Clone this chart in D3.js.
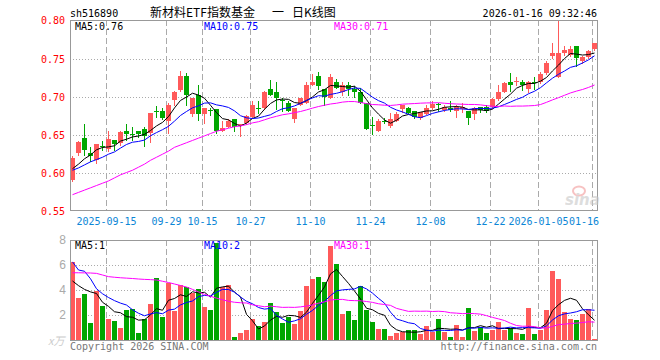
<!DOCTYPE html>
<html>
<head>
<meta charset="utf-8">
<script src="https://cdn.jsdelivr.net/npm/d3@7"></script>
<style>
  body { margin: 0; background: #fff; }
  svg { display: block; }
  text { font-family: "DejaVu Sans Mono", monospace; font-size: 10px; }
</style>
</head>
<body>
<div id="chart"></div>
<script>
// trading days shown on the chart
const dates = [
  "2025-09-05","2025-09-08","2025-09-09","2025-09-10","2025-09-11","2025-09-12","2025-09-15","2025-09-16","2025-09-17","2025-09-18",
  "2025-09-19","2025-09-22","2025-09-23","2025-09-24","2025-09-25","2025-09-26","2025-09-29","2025-09-30","2025-10-09","2025-10-10",
  "2025-10-13","2025-10-14","2025-10-15","2025-10-16","2025-10-17","2025-10-20","2025-10-21","2025-10-22","2025-10-23","2025-10-24",
  "2025-10-27","2025-10-28","2025-10-29","2025-10-30","2025-10-31","2025-11-03","2025-11-04","2025-11-05","2025-11-06","2025-11-07",
  "2025-11-10","2025-11-11","2025-11-12","2025-11-13","2025-11-14","2025-11-17","2025-11-18","2025-11-19","2025-11-20","2025-11-21",
  "2025-11-24","2025-11-25","2025-11-26","2025-11-27","2025-11-28","2025-12-01","2025-12-02","2025-12-03","2025-12-04","2025-12-05",
  "2025-12-08","2025-12-09","2025-12-10","2025-12-11","2025-12-12","2025-12-15","2025-12-16","2025-12-17","2025-12-18","2025-12-19",
  "2025-12-22","2025-12-23","2025-12-24","2025-12-25","2025-12-26","2025-12-29","2025-12-30","2025-12-31","2026-01-05","2026-01-06",
  "2026-01-07","2026-01-08","2026-01-09","2026-01-12","2026-01-13","2026-01-14","2026-01-15","2026-01-16"
];

const open = [
  0.591,0.626,0.646,0.626,0.618,0.636,0.632,0.644,0.640,0.655,
  0.651,0.656,0.658,0.653,0.682,0.682,0.669,0.696,0.709,0.728,
  0.677,0.703,0.677,0.683,0.684,0.656,0.661,0.671,0.663,0.666,
  0.674,0.685,0.685,0.710,0.706,0.696,0.692,0.671,0.689,0.692,
  0.716,0.728,0.710,0.699,0.720,0.707,0.716,0.710,0.706,0.692,
  0.663,0.656,0.669,0.662,0.669,0.684,0.685,0.682,0.672,0.678,
  0.685,0.691,0.683,0.686,0.682,0.684,0.681,0.678,0.687,0.687,
  0.687,0.697,0.707,0.719,0.719,0.720,0.710,0.720,0.719,0.731,
  0.753,0.726,0.757,0.755,0.767,0.747,0.752,0.763
];
const high = [
  0.622,0.642,0.665,0.634,0.639,0.642,0.655,0.644,0.655,0.665,
  0.660,0.656,0.660,0.679,0.688,0.685,0.692,0.708,0.734,0.731,
  0.698,0.716,0.685,0.685,0.684,0.668,0.671,0.671,0.665,0.676,
  0.695,0.695,0.708,0.722,0.720,0.698,0.695,0.686,0.699,0.720,
  0.730,0.732,0.710,0.730,0.723,0.720,0.720,0.714,0.712,0.692,
  0.674,0.671,0.673,0.679,0.680,0.690,0.687,0.682,0.680,0.689,
  0.694,0.692,0.689,0.694,0.690,0.692,0.682,0.687,0.687,0.689,
  0.699,0.715,0.720,0.731,0.726,0.722,0.721,0.726,0.732,0.747,
  0.771,0.800,0.766,0.766,0.767,0.753,0.761,0.771
];
const low = [
  0.590,0.624,0.624,0.616,0.613,0.630,0.629,0.631,0.637,0.644,
  0.644,0.647,0.636,0.641,0.674,0.671,0.653,0.690,0.708,0.690,
  0.675,0.670,0.666,0.676,0.653,0.655,0.660,0.655,0.649,0.665,
  0.674,0.679,0.684,0.703,0.684,0.681,0.682,0.667,0.689,0.692,
  0.716,0.710,0.690,0.698,0.712,0.703,0.703,0.700,0.692,0.658,
  0.651,0.655,0.666,0.661,0.668,0.680,0.679,0.673,0.671,0.677,
  0.684,0.682,0.682,0.682,0.674,0.680,0.664,0.671,0.680,0.680,
  0.686,0.696,0.706,0.708,0.715,0.709,0.707,0.710,0.718,0.730,
  0.751,0.726,0.755,0.754,0.740,0.745,0.751,0.761
];
const close = [
  0.620,0.641,0.631,0.623,0.639,0.635,0.645,0.638,0.654,0.651,
  0.650,0.651,0.649,0.679,0.681,0.673,0.689,0.706,0.728,0.703,
  0.698,0.677,0.685,0.682,0.655,0.659,0.669,0.661,0.665,0.675,
  0.689,0.684,0.706,0.703,0.698,0.695,0.682,0.685,0.698,0.715,
  0.720,0.714,0.700,0.726,0.712,0.716,0.710,0.706,0.692,0.658,
  0.662,0.669,0.668,0.671,0.677,0.690,0.679,0.674,0.680,0.685,
  0.691,0.689,0.687,0.683,0.687,0.687,0.673,0.685,0.683,0.682,
  0.697,0.706,0.718,0.715,0.721,0.715,0.719,0.718,0.730,0.745,
  0.758,0.757,0.761,0.763,0.751,0.752,0.760,0.771
];

// price moving averages as drawn
const ma5 = [
  0.606,0.612,0.619,0.624,0.6308,0.6338,0.6346,0.636,0.6422,0.6446,
  0.6476,0.6488,0.651,0.656,0.662,0.6666,0.6742,0.6856,0.6954,0.6998,
  0.7048,0.7024,0.6982,0.689,0.6794,0.6716,0.670,0.6652,0.6618,0.6658,
  0.6718,0.6748,0.6838,0.6914,0.696,0.6972,0.6968,0.6926,0.6916,0.695,
  0.700,0.7064,0.7094,0.715,0.7144,0.7136,0.7128,0.714,0.7072,0.6964,
  0.6856,0.6774,0.6698,0.6656,0.6694,0.675,0.677,0.6782,0.680,0.6816,
  0.6818,0.6838,0.6864,0.687,0.6874,0.6866,0.6834,0.683,0.683,0.682,
  0.684,0.6906,0.6972,0.7036,0.7114,0.715,0.7176,0.7176,0.7206,0.7254,
  0.734,0.7416,0.7502,0.7568,0.756,0.7548,0.7554,0.7574
];
const ma10 = [
  0.604,0.607,0.611,0.615,0.618,0.621,0.625,0.628,0.633,0.6377,
  0.6407,0.6417,0.6435,0.6491,0.6533,0.6571,0.6615,0.6683,0.6757,0.6809,
  0.6857,0.6883,0.6919,0.6922,0.6896,0.6882,0.6862,0.6817,0.6754,0.6726,
  0.6717,0.6724,0.6745,0.6766,0.6809,0.6845,0.6858,0.6882,0.6915,0.6955,
  0.6986,0.7016,0.701,0.7033,0.7047,0.7068,0.7096,0.7117,0.7111,0.7054,
  0.6996,0.6951,0.6919,0.6864,0.6829,0.6803,0.6772,0.674,0.6728,0.6755,
  0.6784,0.6804,0.6823,0.6835,0.6845,0.6842,0.6836,0.6847,0.685,0.6847,
  0.6853,0.687,0.6901,0.6933,0.6967,0.6995,0.7041,0.7074,0.7121,0.7184,
  0.7245,0.7296,0.7339,0.7387,0.7407,0.7444,0.7485,0.7538
];
const ma30 = [
  0.572,0.575,0.578,0.581,0.584,0.587,0.590,0.594,0.598,0.601,
  0.604,0.608,0.612,0.617,0.621,0.625,0.629,0.634,0.637,0.640,
  0.643,0.646,0.649,0.652,0.655,0.657,0.659,0.661,0.662,0.6637,
  0.666,0.6675,0.670,0.6726,0.6746,0.6766,0.6778,0.6794,0.6809,0.683,
  0.6853,0.6874,0.6891,0.6907,0.6917,0.6932,0.6939,0.6939,0.6927,0.6912,
  0.690,0.6897,0.6891,0.6888,0.6895,0.6905,0.6909,0.6913,0.6918,0.6921,
  0.6922,0.6924,0.6917,0.6911,0.6907,0.6904,0.6901,0.6901,0.6896,0.6885,
  0.6878,0.6875,0.6881,0.6877,0.688,0.688,0.6883,0.6887,0.690,0.6929,
  0.6961,0.699,0.7021,0.7052,0.7076,0.7097,0.7124,0.7156
];

// volume, x万
const volume = [
  6.24,3.36,3.68,1.36,3.95,2.75,1.71,1.52,0.96,2.43,
  2.48,0.56,1.68,2.88,4.96,1.84,4.56,2.35,4.40,4.24,
  3.73,4.08,2.67,2.43,7.79,4.27,4.40,0.24,0.56,0.80,
  1.71,1.09,1.44,2.96,2.24,1.36,1.84,1.28,2.32,4.32,
  4.88,5.07,4.67,7.52,6.08,2.08,2.32,1.60,4.32,2.40,
  1.44,0.88,0.88,0.32,0.56,0.64,0.80,0.80,0.48,1.12,
  0.64,1.68,0.64,0.24,1.20,0.24,2.56,0.72,1.04,0.56,
  0.80,1.44,0.80,0.96,0.56,0.48,2.56,0.48,0.80,2.40,
  5.52,4.88,2.24,1.68,1.60,2.08,2.48,0.08
];
const volMa5 = [
  4.72,4.35,4.05,3.85,3.72,3.02,2.69,2.26,2.18,1.87,
  1.82,1.59,1.62,2.01,2.51,2.38,3.18,3.32,3.62,3.48,
  3.86,3.76,3.82,3.43,4.14,4.25,4.31,3.83,3.45,2.05,
  1.54,0.88,1.12,1.60,1.89,1.82,1.97,1.94,1.81,2.22,
  2.93,3.57,4.25,5.29,5.64,5.08,4.53,3.92,3.28,2.54,
  2.42,2.13,1.98,1.18,0.82,0.66,0.64,0.62,0.66,0.77,
  0.77,0.94,0.91,0.86,0.88,0.80,0.98,0.99,1.15,1.02,
  1.14,0.91,0.93,0.91,0.91,0.85,1.07,1.01,0.98,1.34,
  2.35,2.82,3.17,3.34,3.18,2.50,2.02,1.58
];
const volMa10 = [
  6.25,5.60,5.50,4.90,4.10,3.70,3.40,3.15,2.95,2.80,
  2.42,2.14,1.94,2.09,2.19,2.10,2.39,2.47,2.81,3.00,
  3.12,3.47,3.57,3.53,3.81,4.05,4.04,3.83,3.44,3.10,
  2.90,2.60,2.47,2.53,1.97,1.68,1.42,1.53,1.70,2.06,
  2.37,2.77,3.09,3.55,3.93,4.01,4.05,4.09,4.29,4.09,
  3.75,3.33,2.95,2.23,1.68,1.54,1.38,1.30,0.92,0.79,
  0.71,0.79,0.77,0.76,0.82,0.78,0.96,0.95,1.01,0.95,
  0.97,0.94,0.96,1.03,0.97,0.99,0.99,0.97,0.94,1.13,
  1.60,1.94,2.09,2.16,2.26,2.42,2.42,2.38
];
const volMa30 = [
  5.38,5.38,5.37,5.36,5.33,5.20,5.07,5.02,4.98,4.95,
  4.92,4.88,4.85,4.83,4.80,4.70,4.60,4.48,4.36,4.24,
  4.05,3.85,3.65,3.50,3.35,3.22,3.10,3.02,2.98,2.96,
  2.81,2.74,2.66,2.71,2.66,2.61,2.62,2.61,2.65,2.72,
  2.80,2.95,3.05,3.20,3.24,3.25,3.17,3.15,3.14,3.08,
  3.01,2.90,2.84,2.77,2.53,2.41,2.29,2.31,2.30,2.31,
  2.28,2.30,2.27,2.18,2.15,2.11,2.13,2.11,2.07,1.95,
  1.81,1.69,1.56,1.34,1.16,1.10,1.11,1.07,0.96,0.96,
  1.09,1.23,1.27,1.32,1.35,1.40,1.46,1.43
];

// axis ticks and labels
const priceTicks = [0.80, 0.75, 0.70, 0.65, 0.60, 0.55];
const volTicks = [8, 6, 4, 2];
const tickDates = ["2025-09-15","2025-09-29","2025-10-15","2025-10-27","2025-11-10","2025-11-24","2025-12-08","2025-12-22","2026-01-05","2026-01-16"];
const tickLabels = ["2025-09-15","09-29","10-15","10-27","11-10","11-24","12-08","12-22","2026-01-05","01-16"];
const priceLegend = ["MA5:0.76", "MA10:0.75", "MA30:0.71"];
const volLegend = ["MA5:1", "MA10:2", "MA30:1"];

const width = 660, height = 360;
const left = 70, right = 597;
const RED = "#ff5a5a", GREEN = "#00a600";
const maColors = ["#000000", "#0000ff", "#ff00ff"];

const svg = d3.select("#chart").append("svg")
    .attr("width", width)
    .attr("height", height);

const x = d3.scaleBand().domain(dates).range([left, right]).paddingInner(1 / 6).paddingOuter(0);
const y = d3.scaleLinear().domain([0.55, 0.80]).range([211.5, 20.5]);
const yv = d3.scaleLinear().domain([0, 8]).range([340, 240]);

const px = d => Math.round(x(d));
const up = i => close[i] >= open[i];

// ---- grid ----
function grid(top, bottom, rows) {
    svg.append("g").selectAll("line").data(rows).join("line")
        .attr("x1", left).attr("x2", right)
        .attr("y1", d => d).attr("y2", d => d)
        .attr("stroke", "#aaa")
        .attr("stroke-dasharray", "1,2")
        .attr("shape-rendering", "crispEdges");
    svg.append("g").selectAll("line").data(tickDates).join("line")
        .attr("x1", d => px(d) + 0.5).attr("x2", d => px(d) + 0.5)
        .attr("y1", top).attr("y2", bottom)
        .attr("stroke", "#aaa")
        .attr("stroke-dasharray", "6,3")
        .attr("shape-rendering", "crispEdges");
}
grid(20, 211, priceTicks.slice(1, -1).map(v => Math.round(y(v)) + 0.5));
grid(240, 340, volTicks.slice(1).map(v => Math.round(yv(v)) + 0.5));

// ---- candles ----
const candles = svg.append("g").selectAll("g").data(dates).join("g");
candles.append("line")
    .attr("x1", d => px(d) + 2.5).attr("x2", d => px(d) + 2.5)
    .attr("y1", (d, i) => Math.round(y(high[i])))
    .attr("y2", (d, i) => Math.round(y(low[i])) + 1)
    .attr("stroke", (d, i) => up(i) ? RED : GREEN)
    .attr("shape-rendering", "crispEdges");
candles.append("rect")
    .attr("x", d => px(d))
    .attr("width", x.bandwidth())
    .attr("y", (d, i) => Math.round(y(Math.max(open[i], close[i]))))
    .attr("height", (d, i) => Math.max(1, Math.round(y(Math.min(open[i], close[i]))) - Math.round(y(Math.max(open[i], close[i])))))
    .attr("fill", (d, i) => up(i) ? RED : GREEN)
    .attr("shape-rendering", "crispEdges");

// ---- volume bars ----
svg.append("g").selectAll("rect").data(dates).join("rect")
    .attr("x", d => px(d))
    .attr("width", x.bandwidth())
    .attr("y", (d, i) => Math.round(yv(volume[i])))
    .attr("height", (d, i) => 340 - Math.round(yv(volume[i])))
    .attr("fill", (d, i) => up(i) ? RED : GREEN)
    .attr("shape-rendering", "crispEdges");

// ---- moving average lines ----
function maLine(values, scale, color) {
    const line = d3.line()
        .x((d, i) => x(dates[i]) + 2.5)
        .y(d => scale(d));
    svg.append("path")
        .datum(values)
        .attr("d", line)
        .attr("fill", "none")
        .attr("stroke", color)
        .attr("stroke-width", 1);
}
[ma5, ma10, ma30].forEach((s, k) => maLine(s, y, maColors[k]));
[volMa5, volMa10, volMa30].forEach((s, k) => maLine(s, yv, maColors[k]));

// ---- frames ----
svg.append("rect")
    .attr("x", left + 0.5).attr("y", 20.5)
    .attr("width", right - left).attr("height", 190)
    .attr("fill", "none").attr("stroke", "#999");
svg.append("rect")
    .attr("x", left + 0.5).attr("y", 240.5)
    .attr("width", right - left).attr("height", 100)
    .attr("fill", "none").attr("stroke", "#999");

// ---- axis labels ----
svg.append("g").selectAll("text").data(priceTicks).join("text")
    .attr("x", 65).attr("y", d => y(d))
    .attr("dy", "0.38em")
    .attr("text-anchor", "end")
    .attr("fill", "#ff0000")
    .text(d => d3.format(".2f")(d));

svg.append("g").selectAll("text").data(volTicks).join("text")
    .attr("x", 66).attr("y", d => yv(d))
    .attr("dy", "0.36em")
    .attr("text-anchor", "end")
    .attr("fill", "#aaa")
    .style("font-family", "'Liberation Sans', sans-serif")
    .style("font-size", "12px")
    .text(d => d);

// last date label is pulled in so it stays next to the frame edge
svg.append("g").selectAll("text").data(tickDates).join("text")
    .attr("x", d => Math.min(px(d) + 0.5, right - 13))
    .attr("y", 225)
    .attr("text-anchor", "middle")
    .attr("fill", "#0c86d6")
    .text((d, i) => tickLabels[i]);

// ---- legends ----
const legendX = [75, 204, 334];
svg.append("g").selectAll("text").data(priceLegend).join("text")
    .attr("x", (d, i) => legendX[i]).attr("y", 30)
    .attr("fill", (d, i) => maColors[i])
    .text(d => d);
svg.append("g").selectAll("text").data(volLegend).join("text")
    .attr("x", (d, i) => legendX[i]).attr("y", 249)
    .attr("fill", (d, i) => maColors[i])
    .text(d => d);

// ---- titles ----
svg.append("text").attr("x", 70).attr("y", 17).text("sh516890");
svg.append("text").attr("x", right).attr("y", 17).attr("text-anchor", "end").text("2026-01-16 09:32:46");
const title = svg.append("text").attr("y", 17)
    .style("font-family", "'Noto Sans CJK SC', sans-serif")
    .style("font-size", "12px");
title.append("tspan").attr("x", 150).text("新材料ETF指数基金");
title.append("tspan").attr("x", 272).text("一");
title.append("tspan").attr("x", 292).text("日K线图");

svg.append("text").attr("x", 48).attr("y", 345)
    .attr("fill", "#ccc")
    .style("font-family", "'Noto Sans CJK SC', sans-serif")
    .style("font-size", "11px")
    .style("font-style", "italic")
    .text("x万");
svg.append("text").attr("x", 70).attr("y", 350).attr("fill", "#777").text("Copyright 2026 SINA.COM");
svg.append("text").attr("x", right).attr("y", 350).attr("text-anchor", "end").attr("fill", "#777").text("http://finance.sina.com.cn");

// sina watermark
const logo = svg.append("g").attr("opacity", 0.6);
logo.append("ellipse").attr("cx", 579).attr("cy", 191).attr("rx", 6).attr("ry", 4.5)
    .attr("fill", "none").attr("stroke", "#f29a9a").attr("stroke-width", 2);
logo.append("text").attr("x", 565).attr("y", 205)
    .attr("fill", "#c8c8c8")
    .style("font-family", "'DejaVu Sans', sans-serif")
    .style("font-size", "15px")
    .style("font-weight", "bold")
    .style("font-style", "italic")
    .text("sina");
</script>
</body>
</html>
